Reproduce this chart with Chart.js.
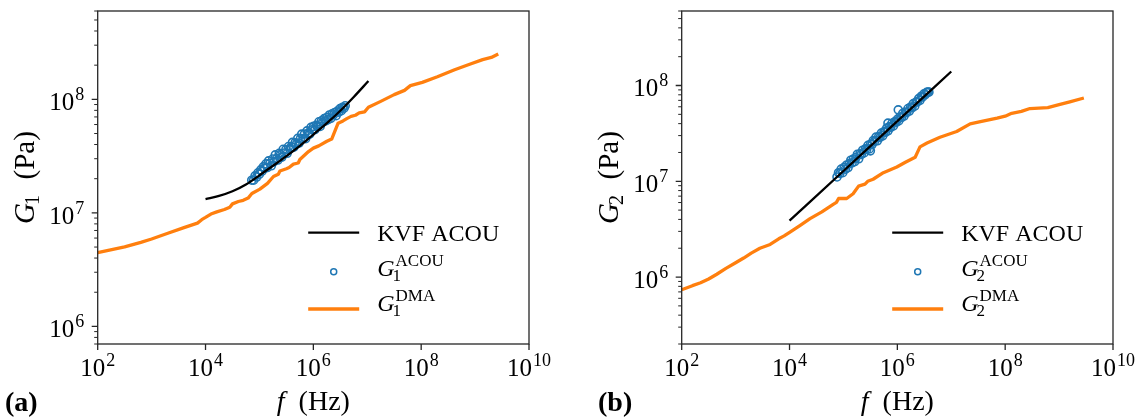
<!DOCTYPE html>
<html>
<head>
<meta charset="utf-8">
<script src="https://cdn.jsdelivr.net/npm/chart.js@4.4.0/dist/chart.umd.min.js"></script>
<style>
  html, body { margin: 0; padding: 0; background: #fff; }
  #wrap { position: relative; width: 1137px; height: 419px; overflow: hidden; }
  canvas { position: absolute; top: 0; }
  #chartA { left: 0; }
  #chartB { left: 568px; }
</style>
</head>
<body>
<div id="wrap">
  <canvas id="chartA" width="568" height="419"></canvas>
  <canvas id="chartB" width="569" height="419"></canvas>
</div>
<script>
// ---- data (f in Hz, G in Pa) ----

// panel (a): G1
const g1KvfFreq = [1e4, 1.78e4, 3.16e4, 5.62e4, 1e5, 1.78e5, 3.16e5, 5.62e5, 1e6, 1.78e6, 3.16e6, 5.62e6, 1.05e7];
const g1KvfVal  = [1.32e7, 1.41e7, 1.55e7, 1.78e7, 2.14e7, 2.60e7, 3.16e7, 3.89e7, 4.90e7, 6.17e7, 7.94e7, 1.05e8, 1.45e8];

const g1AcouFreq = [7.2e4, 7.8e4, 8.3e4, 8.9e4, 9.4e4, 1.0e5, 1.06e5, 1.12e5, 1.18e5, 1.25e5, 1.32e5, 1.40e5, 1.48e5, 1.57e5,
  1.66e5, 1.76e5, 1.86e5, 1.97e5, 2.08e5, 2.2e5, 2.33e5, 2.47e5, 2.61e5, 2.76e5, 2.92e5, 3.09e5, 3.27e5, 3.46e5, 3.66e5,
  3.87e5, 4.1e5, 4.34e5, 4.59e5, 4.86e5, 5.14e5, 5.44e5, 5.76e5, 6.09e5, 6.45e5, 6.82e5, 7.22e5, 7.64e5, 8.08e5, 8.55e5,
  9.05e5, 9.58e5, 1.01e6, 1.07e6, 1.13e6, 1.2e6, 1.27e6, 1.34e6, 1.42e6, 1.5e6, 1.59e6, 1.68e6, 1.78e6, 1.88e6, 1.99e6,
  2.11e6, 2.23e6, 2.36e6, 2.5e6, 2.64e6, 2.8e6, 2.96e6, 3.13e6, 3.31e6, 3.5e6, 3.7e6, 3.9e6];
const g1AcouVal = [1.94e7, 1.94e7, 2.12e7, 2.07e7, 2.25e7, 2.19e7, 2.39e7, 2.33e7, 2.54e7, 2.47e7, 2.70e7, 2.51e7, 2.87e7, 2.74e7,
  2.60e7, 2.98e7, 2.83e7, 3.24e7, 3.01e7, 2.92e7, 3.35e7, 3.27e7, 3.10e7, 3.63e7, 3.37e7, 3.61e7, 3.35e7, 3.84e7, 3.66e7,
  3.82e7, 4.18e7, 3.79e7, 4.15e7, 4.05e7, 4.53e7, 4.12e7, 4.51e7, 4.94e7, 4.51e7, 4.94e7, 4.51e7, 5.28e7, 5.05e7, 4.93e7,
  5.66e7, 5.40e7, 5.78e7, 5.40e7, 5.90e7, 5.78e7, 6.34e7, 5.77e7, 6.47e7, 6.31e7, 6.76e7, 6.46e7, 6.92e7, 6.62e7, 7.28e7,
  6.81e7, 7.46e7, 7.31e7, 7.67e7, 7.18e7, 7.89e7, 7.71e7, 8.28e7, 7.94e7, 8.53e7, 8.36e7, 8.77e7];

const g1DmaFreq = [1e2, 3.16e2, 6.31e2, 1e3, 2e3, 3.98e3, 7.08e3, 8.5e3, 1e4, 1.26e4, 1.62e4, 2.24e4, 2.82e4, 3.16e4, 4.07e4,
  5.0e4, 6.17e4, 7.24e4, 1.02e5, 1.41e5, 1.82e5, 2.24e5, 2.4e5, 3.16e5, 3.55e5, 4.27e5, 5.25e5, 5.62e5, 8.13e5, 1.0e6,
  1.26e6, 1.78e6, 2.19e6, 2.51e6, 2.88e6, 3.55e6, 4.17e6, 5.01e6, 6.03e6, 7.08e6, 8.91e6, 1.05e7, 1.74e7, 3.16e7, 4.9e7,
  6.31e7, 1.05e8, 2.0e8, 4.17e8, 7.94e8, 1.38e9, 2.0e9, 2.69e9];
const g1DmaVal = [4.47e6, 5.01e6, 5.50e6, 5.89e6, 6.61e6, 7.41e6, 8.13e6, 8.71e6, 9.12e6, 9.77e6, 1.02e7, 1.07e7, 1.12e7, 1.20e7, 1.26e7,
  1.29e7, 1.35e7, 1.48e7, 1.62e7, 1.82e7, 2.09e7, 2.19e7, 2.34e7, 2.45e7, 2.51e7, 2.69e7, 2.75e7, 2.95e7, 3.47e7, 3.72e7,
  3.89e7, 4.27e7, 4.47e7, 5.25e7, 6.17e7, 6.46e7, 6.76e7, 7.08e7, 7.24e7, 7.59e7, 7.76e7, 8.51e7, 9.55e7, 1.10e8, 1.20e8,
  1.32e8, 1.41e8, 1.58e8, 1.82e8, 2.04e8, 2.24e8, 2.34e8, 2.51e8];

// panel (b): G2
const g2KvfFreq = [1e4, 1e5, 1e6, 1e7];
const g2KvfVal  = [3.88e6, 1.28e7, 4.24e7, 1.40e8];

const g2AcouFreq = [7.6e4, 8.1e4, 8.6e4, 9.1e4, 9.7e4, 1.03e5, 1.09e5, 1.15e5, 1.22e5, 1.29e5, 1.37e5, 1.45e5, 1.53e5, 1.62e5,
  1.71e5, 1.81e5, 1.92e5, 2.03e5, 2.15e5, 2.28e5, 2.41e5, 2.55e5, 2.7e5, 2.86e5, 3.03e5, 3.16e5, 3.2e5, 3.39e5, 3.59e5,
  3.8e5, 4.02e5, 4.26e5, 4.51e5, 4.77e5, 5.05e5, 5.35e5, 5.66e5, 6.0e5, 6.35e5, 6.7e5, 6.72e5, 7.12e5, 7.54e5, 7.98e5,
  8.45e5, 8.95e5, 9.48e5, 1.0e6, 1.04e6, 1.06e6, 1.12e6, 1.19e6, 1.26e6, 1.33e6, 1.41e6, 1.49e6, 1.58e6, 1.67e6, 1.77e6,
  1.87e6, 1.98e6, 2.1e6, 2.22e6, 2.35e6, 2.49e6, 2.63e6, 2.79e6, 2.95e6, 3.12e6, 3.3e6, 3.5e6, 3.7e6, 3.85e6];
const g2AcouVal = [1.11e7, 1.23e7, 1.21e7, 1.34e7, 1.23e7, 1.40e7, 1.34e7, 1.48e7, 1.39e7, 1.53e7, 1.66e7, 1.56e7, 1.71e7, 1.61e7,
  1.77e7, 1.91e7, 1.72e7, 1.94e7, 1.91e7, 2.11e7, 1.98e7, 2.18e7, 2.15e7, 2.37e7, 2.18e7, 2.08e7, 2.45e7, 2.42e7, 2.67e7,
  2.62e7, 2.89e7, 2.65e7, 2.93e7, 2.88e7, 3.18e7, 2.99e7, 3.30e7, 3.25e7, 3.59e7, 4.05e7, 3.37e7, 3.72e7, 3.66e7, 4.04e7,
  3.79e7, 4.19e7, 4.12e7, 4.44e7, 5.57e7, 4.27e7, 4.70e7, 4.63e7, 5.12e7, 4.80e7, 5.30e7, 5.21e7, 5.75e7, 5.41e7, 5.97e7,
  5.86e7, 6.47e7, 6.08e7, 6.71e7, 6.76e7, 7.29e7, 7.00e7, 7.73e7, 7.60e7, 8.18e7, 8.05e7, 8.49e7, 8.55e7, 8.53e7];

const g2DmaFreq = [1e2, 1.58e2, 2.24e2, 3.16e2, 4.47e2, 6.61e2, 1e3, 1.41e3, 1.95e3, 2.82e3, 4.37e3, 6.31e3, 7.94e3, 1.02e4,
  1.58e4, 2.4e4, 3.98e4, 6.46e4, 7.41e4, 8.13e4, 1.15e5, 1.51e5, 1.91e5, 2.51e5, 2.82e5, 3.55e5, 5.5e5, 9.77e5, 1.41e6,
  2.14e6, 2.63e6, 3.55e6, 6.17e6, 1.26e7, 2.24e7, 3.31e7, 7.08e7, 1e8, 1.32e8, 2e8, 2.88e8, 6.17e8, 1e9, 1.58e9, 2.88e9];
const g2DmaVal = [7.38e5, 8.13e5, 8.71e5, 9.55e5, 1.07e6, 1.23e6, 1.41e6, 1.58e6, 1.78e6, 2.0e6, 2.19e6, 2.51e6, 2.69e6, 2.95e6,
  3.47e6, 4.07e6, 4.79e6, 5.75e6, 6.03e6, 6.61e6, 6.61e6, 7.41e6, 8.91e6, 9.33e6, 1.0e7, 1.05e7, 1.23e7, 1.41e7, 1.58e7,
  1.78e7, 2.29e7, 2.51e7, 2.88e7, 3.31e7, 3.98e7, 4.17e7, 4.57e7, 4.79e7, 5.13e7, 5.37e7, 5.75e7, 5.89e7, 6.31e7, 6.76e7, 7.41e7];

// axes
const xTickExps = [2, 4, 6, 8, 10];
const yTickExps = [6, 7, 8];
const yMinorA = [7e5, 8e5, 9e5, 2e6, 3e6, 4e6, 5e6, 6e6, 7e6, 8e6, 9e6, 2e7, 3e7, 4e7, 5e7, 6e7, 7e7, 8e7, 9e7, 2e8, 3e8, 4e8, 5e8, 6e8];
const yMinorB = [2e5, 3e5, 4e5, 5e5, 6e5, 7e5, 8e5, 9e5, 2e6, 3e6, 4e6, 5e6, 6e6, 7e6, 8e6, 9e6, 2e7, 3e7, 4e7, 5e7, 6e7, 7e7, 8e7, 9e7, 2e8, 3e8, 4e8, 5e8, 6e8];

const BLUE = '#1f77b4', ORANGE = '#ff7f0e';
const SERIF = '"Liberation Serif", "Times New Roman", serif';
const font = (size, style) => (style || '') + ' ' + size + 'px ' + SERIF;

const pairs = (xs, ys) => xs.map((x, i) => ({ x: x, y: ys[i] }));

// "10" with superscript exponent, y = baseline of "10"
function drawPow(ctx, exp, x, y, align) {
  ctx.font = font(25);
  const w1 = ctx.measureText('10').width;
  ctx.font = font(18);
  const w2 = ctx.measureText(String(exp)).width;
  const total = w1 + 1 + w2;
  const x0 = align === 'center' ? x - total / 2 : x - total;
  ctx.font = font(25);
  ctx.fillText('10', x0, y);
  ctx.font = font(18);
  ctx.fillText(String(exp), x0 + w1 + 1, y - 10);
}

// italic G with sub / superscript, returns width
function drawG(ctx, x, y, sub, sup, size, measureOnly) {
  ctx.font = font(size, 'italic');
  const gw = ctx.measureText('G').width;
  if (!measureOnly) ctx.fillText('G', x, y);
  const small = Math.round(size * 0.7);
  ctx.font = font(small);
  let w = gw;
  if (sub) {
    const sx = x + gw - 2;
    if (!measureOnly) ctx.fillText(sub, sx, y + (sup ? 5.5 : 5));
    w = Math.max(w, gw - 2 + ctx.measureText(sub).width);
  }
  if (sup) {
    if (!measureOnly) ctx.fillText(sup, x + gw + 1, y - 10);
    w = Math.max(w, gw + 1 + ctx.measureText(sup).width);
  }
  return w;
}

const decor = {
  id: 'decor',
  afterDraw(chart, args, o) {
    const ctx = chart.ctx, a = chart.chartArea;
    const xs = chart.scales.x, ys = chart.scales.y;
    ctx.save();
    ctx.textAlign = 'left';
    ctx.textBaseline = 'alphabetic';
    ctx.fillStyle = '#000';

    // frame + ticks
    ctx.strokeStyle = '#262626';
    ctx.lineWidth = 1.3;
    ctx.strokeRect(a.left, a.top, a.right - a.left, a.bottom - a.top);
    ctx.beginPath();
    xTickExps.forEach(e => {
      const px = xs.getPixelForValue(Math.pow(10, e));
      ctx.moveTo(px, a.bottom); ctx.lineTo(px, a.bottom + 6);
    });
    yTickExps.forEach(e => {
      const py = ys.getPixelForValue(Math.pow(10, e));
      ctx.moveTo(a.left - 6, py); ctx.lineTo(a.left, py);
    });
    ctx.stroke();
    ctx.lineWidth = 1;
    ctx.beginPath();
    o.minor.forEach(v => {
      const py = ys.getPixelForValue(v);
      ctx.moveTo(a.left - 3.5, py); ctx.lineTo(a.left, py);
    });
    ctx.stroke();

    // tick labels
    xTickExps.forEach(e => drawPow(ctx, e, xs.getPixelForValue(Math.pow(10, e)), a.bottom + 31.5, 'center'));
    yTickExps.forEach(e => drawPow(ctx, e, a.left - 13.4, ys.getPixelForValue(Math.pow(10, e)) + 10.7, 'right'));

    // x title: f (Hz)
    ctx.font = font(28, 'italic');
    const fw = ctx.measureText('f').width;
    ctx.font = font(28);
    const rest = '  (Hz)';
    const rw = ctx.measureText(rest).width;
    let tx = (a.left + a.right) / 2 - (fw + rw) / 2;
    ctx.font = font(28, 'italic');
    ctx.fillText('f', tx, 410);
    ctx.font = font(28);
    ctx.fillText(rest, tx + fw, 410);

    // y title: G_i (Pa)
    ctx.save();
    ctx.translate(a.left - 63.5, (a.top + a.bottom) / 2);
    ctx.rotate(-Math.PI / 2);
    const gw = drawG(ctx, 0, 0, o.sub, null, 29, true) + 1;
    ctx.font = font(29);
    const pw = ctx.measureText('  (Pa)').width;
    const gx = -(gw + pw) / 2;
    drawG(ctx, gx, 0, o.sub, null, 29);
    ctx.font = font(29);
    ctx.fillText('  (Pa)', gx + gw, 0);
    ctx.restore();

    // legend
    const lx = a.left + 210.5, lt = a.left + 279.5;
    ctx.lineCap = 'butt';
    ctx.strokeStyle = '#000';
    ctx.lineWidth = 2.2;
    ctx.beginPath(); ctx.moveTo(lx, 232.7); ctx.lineTo(lx + 51, 232.7); ctx.stroke();
    ctx.font = font(24);
    ctx.fillText('KVF ACOU', lt, 240.5);

    ctx.strokeStyle = BLUE;
    ctx.lineWidth = 1.5;
    ctx.beginPath(); ctx.arc(lx + 25.5, 271.7, 3, 0, Math.PI * 2); ctx.stroke();
    drawG(ctx, lt, 275.5, o.sub, 'ACOU', 24);

    ctx.strokeStyle = ORANGE;
    ctx.lineWidth = 3.5;
    ctx.beginPath(); ctx.moveTo(lx, 309); ctx.lineTo(lx + 51, 309); ctx.stroke();
    drawG(ctx, lt, 310.5, o.sub, 'DMA', 24);

    // panel letter
    ctx.font = font(28, 'bold');
    ctx.fillText(o.letter, o.letterX, 411);
    ctx.restore();
  }
};

function makeChart(id, canvasW, plotLeft, plotRight, yMin, sub, minor, letter, letterX, kvf, acou, dma) {
  return new Chart(document.getElementById(id), {
    type: 'scatter',
    data: {
      datasets: [
        {
          label: 'KVF ACOU',
          data: kvf,
          showLine: true,
          borderColor: '#000',
          borderWidth: 2.3,
          pointRadius: 0,
          cubicInterpolationMode: 'monotone',
          fill: false
        },
        {
          label: 'ACOU',
          data: acou,
          showLine: false,
          pointRadius: 4,
          pointBorderWidth: 1.6,
          pointBorderColor: BLUE,
          pointBackgroundColor: 'rgba(0,0,0,0)'
        },
        {
          label: 'DMA',
          data: dma,
          showLine: true,
          borderColor: ORANGE,
          borderWidth: 3.3,
          borderJoinStyle: 'round',
          pointRadius: 0,
          tension: 0,
          fill: false
        }
      ]
    },
    options: {
      responsive: false,
      animation: false,
      events: [],
      layout: { padding: { left: 0, top: 11, right: canvasW - plotRight, bottom: 0 } },
      plugins: {
        legend: { display: false },
        tooltip: { enabled: false },
        decor: { sub: sub, minor: minor, letter: letter, letterX: letterX }
      },
      scales: {
        x: {
          type: 'logarithmic',
          min: 1e2, max: 1e10,
          ticks: { display: false },
          grid: { display: false },
          border: { display: false },
          afterFit: s => { s.height = 75; }
        },
        y: {
          type: 'logarithmic',
          min: yMin, max: 6e8,
          ticks: { display: false },
          grid: { display: false },
          border: { display: false },
          afterFit: s => { s.width = plotLeft; }
        }
      }
    },
    plugins: [decor]
  });
}

makeChart('chartA', 568, 97.7, 529, 7e5, '1', yMinorA, '(a)', 5,
  pairs(g1KvfFreq, g1KvfVal), pairs(g1AcouFreq, g1AcouVal), pairs(g1DmaFreq, g1DmaVal));
makeChart('chartB', 569, 113.7, 545, 2e5, '2', yMinorB, '(b)', 30,
  pairs(g2KvfFreq, g2KvfVal), pairs(g2AcouFreq, g2AcouVal), pairs(g2DmaFreq, g2DmaVal));
</script>
</body>
</html>
